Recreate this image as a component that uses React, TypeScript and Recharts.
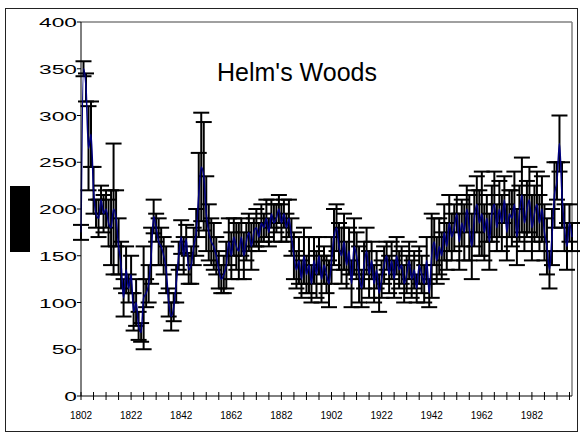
import { LineChart, Line, XAxis, YAxis, ErrorBar, ReferenceLine } from 'recharts'

const FIRST_YEAR = 1802
const LAST_YEAR = 1998

// yearly mean, 1802..1998
const MEANS = [
  175, 350, 330, 265, 280, 220, 195, 190, 210, 195,
  200, 185, 180, 200, 190, 160, 140, 105, 135, 115,
  130, 90, 100, 75, 68, 105, 110, 120, 150, 192,
  180, 165, 160, 150, 135, 100, 85, 95, 120, 150,
  170, 150, 168, 135, 140, 160, 175, 215, 245, 235,
  195, 175, 165, 160, 150, 135, 125, 130, 140, 165,
  150, 170, 160, 155, 170, 150, 165, 175, 160, 175,
  180, 170, 185, 180, 190, 175, 195, 185, 190, 200,
  185, 195, 180, 190, 170, 150, 135, 145, 125, 150,
  130, 140, 120, 145, 130, 150, 125, 140, 130, 120,
  145, 170, 180, 160, 150, 165, 140, 155, 120, 160,
  150, 130, 115, 140, 155, 130, 145, 120, 135, 110,
  125, 140, 150, 130, 145, 125, 150, 135, 140, 120,
  130, 145, 125, 135, 115, 140, 130, 120, 145, 110,
  150, 165, 145, 160, 150, 175, 160, 185, 170, 180,
  195, 165, 185, 175, 200, 180, 160, 190, 205, 185,
  195, 175, 190, 165, 195, 205, 180, 200, 185, 210,
  175, 195, 190, 205, 170, 195, 215, 185, 200, 210,
  180, 195, 205, 185, 200, 175, 160, 135, 170, 215,
  230, 270, 215, 180, 160, 185, 170,
]

// half length of each error bar
const ERRS = [
  8, 8, 15, 45, 35, 25, 15, 20, 15, 20,
  20, 25, 40, 70, 30, 30, 25, 20, 25, 15,
  20, 20, 25, 15, 10, 55, 15, 20, 30, 18,
  15, 25, 20, 20, 25, 15, 15, 15, 20, 15,
  18, 20, 15, 15, 20, 20, 25, 45, 58, 58,
  40, 30, 25, 25, 20, 20, 15, 20, 25, 25,
  25, 20, 25, 30, 20, 25, 20, 20, 25, 15,
  20, 15, 20, 15, 20, 15, 15, 20, 15, 15,
  20, 15, 15, 20, 20, 25, 20, 25, 20, 30,
  20, 30, 20, 25, 25, 20, 25, 20, 20, 25,
  25, 30, 25, 25, 30, 30, 25, 25, 25, 30,
  25, 30, 20, 25, 25, 25, 20, 20, 20, 20,
  20, 20, 15, 20, 20, 20, 20, 20, 20, 20,
  20, 20, 20, 20, 15, 20, 20, 20, 25, 15,
  45, 25, 25, 30, 25, 30, 25, 30, 25, 25,
  20, 30, 25, 30, 25, 35, 35, 30, 30, 35,
  45, 30, 25, 30, 30, 35, 25, 30, 30, 25,
  30, 25, 30, 35, 30, 30, 40, 30, 30, 35,
  35, 30, 35, 30, 35, 30, 30, 20, 30, 35,
  20, 30, 35, 25, 25, 20, 15,
]

const X_LABELS = [1802, 1822, 1842, 1862, 1882, 1902, 1922, 1942, 1962, 1982]
const Y_TICKS = [0, 50, 100, 150, 200, 250, 300, 350, 400]

const data = MEANS.map((v, i) => ({ year: FIRST_YEAR + i, mean: v, err: ERRS[i] }))
const xTicks = Array.from({ length: 40 }, (_, i) => FIRST_YEAR + i * 5)

const font = '"Liberation Sans", Arial, sans-serif'

const XTick = ({ x, y, payload }: any) => (
  <g>
    <line x1={x} x2={x} y1={y - 4} y2={y + 4} stroke="#000" />
    {X_LABELS.includes(payload.value) && (
      <text x={x} y={y + 23} textAnchor="middle" fontSize={10} fontFamily={font} fill="#000">
        {payload.value}
      </text>
    )}
  </g>
)

// Excel stretched the value labels sideways
const YTick = ({ x, y, payload }: any) => (
  <text
    transform={`translate(${x},${y + 5}) scale(1.75,1)`}
    textAnchor="end"
    fontSize={13}
    fontFamily={font}
    fill="#000"
  >
    {payload.value}
  </text>
)

export default function App() {
  return (
    <div style={{ position: 'absolute', left: 0, top: 0, width: 582, height: 434, background: '#fff' }}>
      {/* outer frame */}
      <div
        style={{
          position: 'absolute',
          left: 5,
          top: 8,
          width: 571,
          height: 422,
          border: '1px solid #222',
        }}
      />
      {/* axis title box (renders as a solid block in the original) */}
      <div style={{ position: 'absolute', left: 10, top: 186, width: 20, height: 66, background: '#000' }} />

      <div style={{ position: 'absolute', left: 0, top: 0 }}>
        <LineChart width={582} height={434} data={data} margin={{ top: 22, right: 10, left: 11, bottom: 8 }}>
          <XAxis
            dataKey="year"
            type="number"
            domain={[FIRST_YEAR, LAST_YEAR]}
            ticks={xTicks}
            interval={0}
            tickLine={false}
            tickSize={0}
            tickMargin={0}
            tick={<XTick />}
            axisLine={{ stroke: '#000' }}
            height={30}
          />
          <YAxis
            domain={[0, 400]}
            ticks={Y_TICKS}
            interval={0}
            width={70}
            tickSize={4}
            tickMargin={0}
            tickLine={{ stroke: '#000' }}
            axisLine={{ stroke: '#000' }}
            tick={<YTick />}
          />
          <ReferenceLine y={400} stroke="#808080" strokeWidth={1.5} />
          <ReferenceLine x={LAST_YEAR} stroke="#808080" strokeWidth={1.5} />
          <Line
            type="monotone"
            dataKey="mean"
            stroke="#000080"
            strokeWidth={1.5}
            dot={false}
            isAnimationActive={false}
          >
            <ErrorBar dataKey="err" direction="y" width={8} stroke="#000" strokeWidth={2} isAnimationActive={false} />
          </Line>
        </LineChart>
      </div>

      <div
        style={{
          position: 'absolute',
          left: 197,
          top: 60,
          width: 200,
          textAlign: 'center',
          fontFamily: font,
          fontSize: 25,
          lineHeight: '25px',
          color: '#000',
        }}
      >
        Helm's Woods
      </div>
    </div>
  )
}
